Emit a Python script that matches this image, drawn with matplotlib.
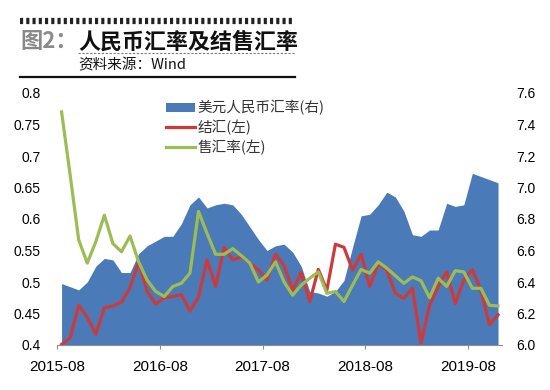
"""USD/CNY rate vs FX settlement and sales ratios, 2015-08 to 2019-11."""

import matplotlib

matplotlib.use("Agg")
import matplotlib.pyplot as plt
from matplotlib.lines import Line2D
from matplotlib.patches import Patch

plt.rcParams["font.family"] = ["Liberation Sans", "Noto Sans CJK SC", "DejaVu Sans"]

CJK = ["Noto Sans CJK SC", "DejaVu Sans"]

# monthly, 2015-08 .. 2019-11
usdcny = [
    6.39, 6.37, 6.35, 6.40, 6.50, 6.55, 6.54, 6.46, 6.46, 6.58,
    6.63, 6.66, 6.69, 6.69, 6.77, 6.89, 6.94, 6.87, 6.89, 6.90,
    6.89, 6.83, 6.75, 6.67, 6.60, 6.63, 6.64, 6.59, 6.50, 6.34,
    6.33, 6.31, 6.34, 6.41, 6.62, 6.82, 6.83, 6.89, 6.97, 6.94,
    6.85, 6.70, 6.69, 6.73, 6.73, 6.90, 6.88, 6.89, 7.09, 7.07,
    7.05, 7.03,
]
settle = [
    0.401, 0.411, 0.463, 0.444, 0.417, 0.459, 0.462, 0.468, 0.491, 0.532,
    0.485, 0.465, 0.475, 0.477, 0.480, 0.454, 0.476, 0.535, 0.493, 0.555,
    0.535, 0.540, 0.530, 0.519, 0.503, 0.544, 0.526, 0.487, 0.515, 0.469,
    0.520, 0.487, 0.560, 0.555, 0.519, 0.544, 0.493, 0.529, 0.519, 0.482,
    0.474, 0.490, 0.403, 0.463, 0.493, 0.516, 0.466, 0.503, 0.520, 0.487,
    0.432, 0.448,
]
sales = [
    0.770, 0.670, 0.567, 0.530, 0.564, 0.606, 0.561, 0.548, 0.573, 0.532,
    0.503, 0.485, 0.477, 0.493, 0.498, 0.514, 0.612, 0.577, 0.544, 0.544,
    0.553, 0.542, 0.530, 0.500, 0.511, 0.532, 0.500, 0.479, 0.495, 0.506,
    0.516, 0.482, 0.485, 0.469, 0.495, 0.520, 0.514, 0.532, 0.522, 0.510,
    0.498, 0.508, 0.502, 0.475, 0.506, 0.493, 0.518, 0.516, 0.490, 0.490,
    0.463, 0.462,
]
x_labels = ["2015-08", "2016-08", "2017-08", "2018-08", "2019-08"]
left_ticks = [0.4, 0.45, 0.5, 0.55, 0.6, 0.65, 0.7, 0.75, 0.8]
right_ticks = [6.0, 6.2, 6.4, 6.6, 6.8, 7.0, 7.2, 7.4, 7.6]

BLUE = "#4a7ab7"
RED = "#cc3b3c"
GREEN = "#9cbd55"

W, H = 550, 390


def fx(px):
    return px / W


def fy(px):
    return 1 - px / H


fig = plt.figure(figsize=(5.5, 3.9), dpi=100)
ax = fig.add_axes([fx(57.3), fy(345), fx(445), 252 / H])
ax2 = ax.twinx()
ax.set_zorder(2)
ax.patch.set_visible(False)

months = list(range(len(usdcny)))
ax2.fill_between(months, 6.0, usdcny, color=BLUE, linewidth=0)
ax.plot(months, settle, color=RED, linewidth=2.3, solid_joinstyle="round")
ax.plot(months, sales, color=GREEN, linewidth=2.3, solid_joinstyle="round")

ax.set_xlim(-0.5, 51.5)
ax.set_ylim(0.4, 0.8)
ax2.set_ylim(6.0, 7.6)
ax.set_xticks([-0.5 + 12 * k for k in range(len(x_labels))], labels=x_labels)
ax.set_yticks(left_ticks, labels=[f"{v:g}" for v in left_ticks])
ax2.set_yticks(right_ticks, labels=[f"{v:.1f}" for v in right_ticks])

for a in (ax, ax2):
    for side in ("top", "left", "right"):
        a.spines[side].set_visible(False)
    a.spines["bottom"].set_color("#8c8c8c")
ax2.spines["bottom"].set_visible(False)
ax.tick_params(axis="x", length=3, color="#8c8c8c", pad=8, labelsize=11)
ax.tick_params(axis="y", length=0, pad=12, labelsize=10)
ax2.tick_params(axis="y", length=0, pad=10, labelsize=10)

handles = [
    Patch(facecolor=BLUE, edgecolor="none"),
    Line2D([], [], color=RED, linewidth=2.3),
    Line2D([], [], color=GREEN, linewidth=2.3),
]
ax.legend(
    handles,
    ["美元人民币汇率(右)", "结汇(左)", "售汇率(左)"],
    loc="upper left",
    bbox_to_anchor=(fx(166), fy(100)),
    bbox_transform=fig.transFigure,
    frameon=False,
    borderpad=0,
    borderaxespad=0,
    handlelength=2.0,
    handleheight=0.6,
    handletextpad=0.15,
    labelspacing=0.3,
    prop={"family": CJK, "size": 10.5},
    labelcolor="#333333",
)

# header block
fig.add_artist(Line2D([fx(20), fx(295)], [fy(20.5), fy(20.5)], transform=fig.transFigure,
                      color="#222222", linewidth=4.5, dashes=(0.5, 0.5)))
fig.text(fx(20), fy(42), "图2：", family=CJK, fontsize=16, weight="bold",
         color="#8a8a8a", va="center", ha="left")
fig.text(fx(78), fy(42), "人民币汇率及结售汇率", family=CJK, fontsize=15.8, weight="heavy",
         color="#111111", va="center", ha="left")
fig.add_artist(Line2D([fx(78), fx(295)], [fy(52.5), fy(52.5)], transform=fig.transFigure,
                      color="#777777", linewidth=0.8, dashes=(2, 1.5)))
fig.text(fx(78), fy(65), "资料来源：Wind", family=CJK, fontsize=10.5,
         color="#111111", va="center", ha="left")
fig.add_artist(Line2D([fx(20), fx(295)], [fy(76.5), fy(76.5)], transform=fig.transFigure,
                      color="#111111", linewidth=1.6))

fig.savefig("out.png", dpi=100)
